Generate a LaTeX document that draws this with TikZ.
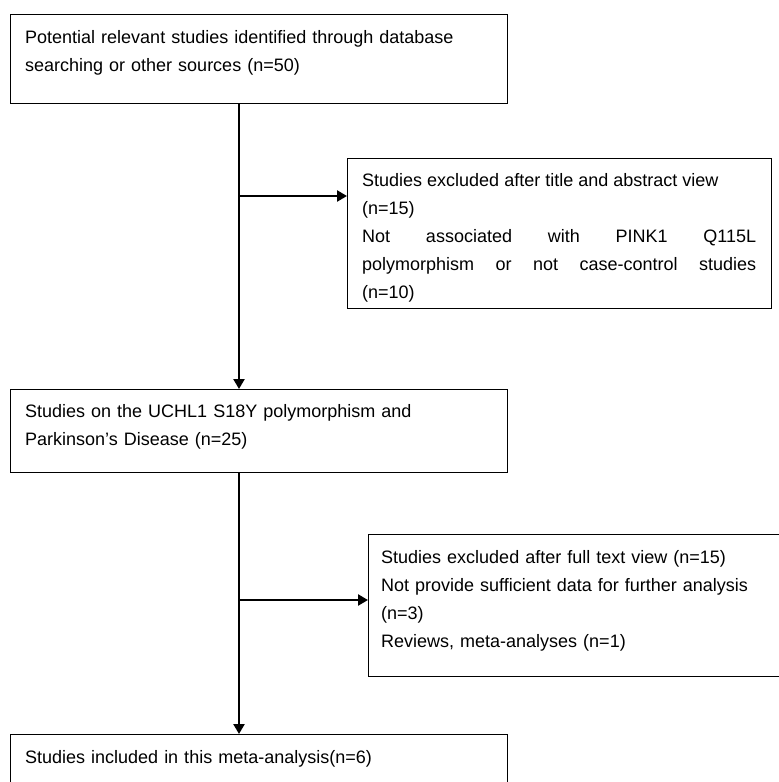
\documentclass[tikz,border=0pt]{standalone}
\usepackage{fontspec}
\setmainfont{Liberation Sans}
\usetikzlibrary{positioning,arrows.meta,calc}

\begin{document}
\begin{tikzpicture}[x=1pt, y=-1pt, font=\fontsize{18}{28}\selectfont,
  box/.style={draw, line width=1.3pt, inner sep=0pt, anchor=north west},
  txt/.style={inner sep=0pt, anchor=north west, align=left},
  tr/.style={-{Triangle[length=10pt, width=11pt]}, line width=2.4pt}]
\useasboundingbox (0,0) rectangle (779,782);
\clip (0,0) rectangle (779,782);
% boxes
\node[box, minimum width=497pt, minimum height=89pt] (src) at (10,14) {};
\node[box, minimum width=424pt, minimum height=150pt] (exc1) at (347,158) {};
\node[box, minimum width=497pt, minimum height=83pt] (uchl) at (10,389) {};
\node[box, minimum width=410.5pt, minimum height=142pt] (exc2) at (368,534) {};
\node[box, minimum width=497pt, minimum height=80pt] (incl) at (10,734) {};
% texts
\node[txt, text width=470pt] (srctxt) at (25,30) {Potential relevant studies identified through database\\searching or other sources (n=50)};
\node[txt, text width=394pt, align=justify] (exc1txt) at (362,173) {Studies excluded after title and abstract view\\(n=15)\\Not associated with PINK1 Q115L\linebreak polymorphism or not case-control studies\linebreak (n=10)};
\node[txt, text width=470pt] (uchltxt) at (25,404) {Studies on the UCHL1 S18Y polymorphism and\\Parkinson's Disease (n=25)};
\node[txt, text width=394pt] (exc2txt) at (381,550) {Studies excluded after full text view (n=15)\\Not provide sufficient data for further analysis\\(n=3)\\Reviews, meta-analyses (n=1)};
\node[txt, text width=470pt] (incltxt) at (25,750) {Studies included in this meta-analysis(n=6)};
% connectors
\coordinate (j1) at (239,196);
\coordinate (j2) at (239,600);
\draw[tr] (src.south -| j1) -- (uchl.north -| j1);
\draw[tr] (j1) -- (j1 -| exc1.west);
\draw[tr] (uchl.south -| j2) -- (incl.north -| j2);
\draw[tr] (j2) -- (j2 -| exc2.west);
\end{tikzpicture}
\end{document}
